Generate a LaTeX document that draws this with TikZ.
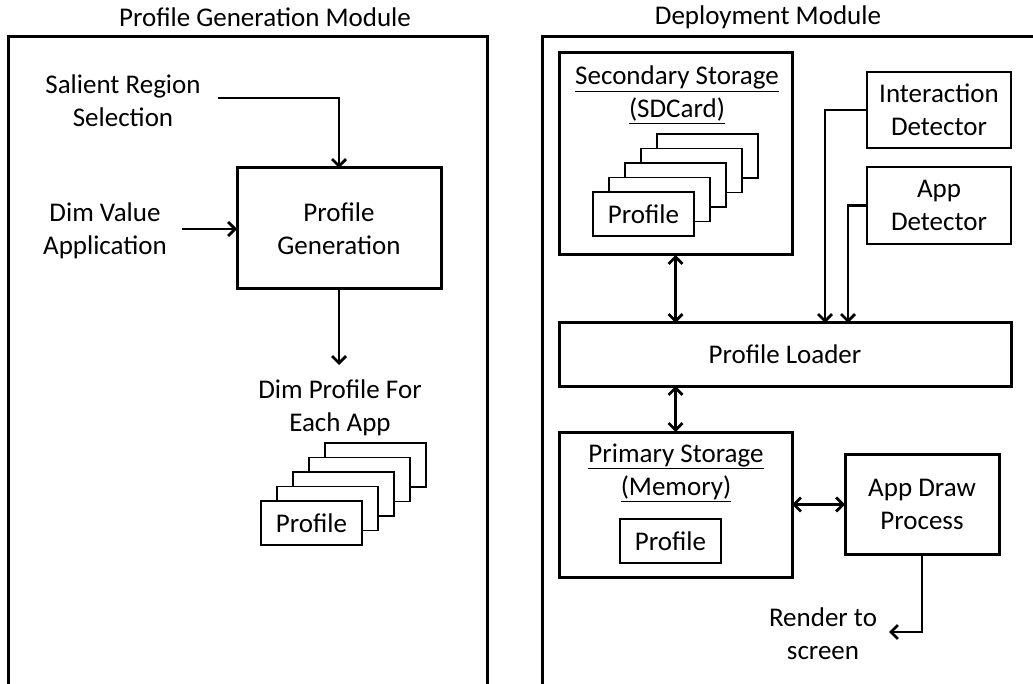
\documentclass[tikz,border=0pt]{standalone}
\usepackage{fontspec}
\setmainfont{Carlito}
\usetikzlibrary{arrows.meta,calc}
\begin{document}
\begin{tikzpicture}[x=1pt,y=-1pt,
  font=\fontsize{27}{33}\selectfont,
  every node/.style={inner sep=0pt, outer sep=0pt},
  txt/.style={align=center},
  bigbox/.style={draw, line width=3pt},
  thinbox/.style={draw, line width=1.5pt},
  card/.style={draw, fill=white, line width=1.1pt, minimum width=101pt, minimum height=44pt},
  arr/.style={line width=2.7pt, -{Straight Barb[length=7pt,width=14pt,line width=2.7pt]}},
  darr/.style={line width=2.7pt, {Straight Barb[length=7pt,width=14pt,line width=2.7pt]}-{Straight Barb[length=7pt,width=14pt,line width=2.7pt]}}
]
\useasboundingbox (0,0) rectangle (1033,684);
\clip (0,0) rectangle (1033,684);
% modules
\draw[bigbox] (8,700) -- (8,37) -- (487,37) -- (487,700);
\draw[bigbox] (542,700) -- (542,37) -- (1050,37);
\node[txt] (t1) at (265,17) {Profile Generation Module};
\node[txt] (t2) at (768,17) {Deployment Module};
% left module
\node[txt] (sal) at (123,101) {Salient Region\\Selection};
\node[txt] (dim) at (105,231) {Dim Value\\Application};
\node[bigbox, txt, minimum width=204pt, minimum height=121pt] (pg) at (339,228.5) {Profile\\Generation};
\coordinate (s1) at (218,98);
\coordinate (d1) at (182,229);
\draw[arr] (s1) -| (pg.north);
\draw[arr] (d1) -- (d1 -| pg.west);
\node[txt] (dp) at (340,408) {Dim Profile For\\Each App};
\coordinate (pgout) at (339,365);
\draw[arr] (pg.south) -- (pgout);
\node[card] (a5) at (375.5,465) {};
\node[card] (a4) at (359.5,479.5) {};
\node[card] (a3) at (343.5,494) {};
\node[card] (a2) at (327.5,508.5) {};
\node[card] (a1) at (311.5,523) {Profile};
% right module
\node[bigbox, minimum width=233pt, minimum height=202pt] (sec) at (675.5,154) {};
\node[txt] (sect) at (677,95) {\underline{Secondary Storage}\\\underline{(SDCard)}};
\node[card] (b5) at (707.5,156) {};
\node[card] (b4) at (691.5,170.5) {};
\node[card] (b3) at (675.5,185) {};
\node[card] (b2) at (659.5,199.5) {};
\node[card] (b1) at (643.5,214) {Profile};
\node[thinbox, txt, minimum width=144pt, minimum height=76pt] (idet) at (939,110) {Interaction\\Detector};
\node[thinbox, txt, minimum width=144pt, minimum height=77pt] (adet) at (939,205.5) {App\\Detector};
\node[bigbox, minimum width=452pt, minimum height=63pt] (loader) at (785,354.5) {Profile Loader};
\node[bigbox, minimum width=233pt, minimum height=145pt] (prim) at (675.5,504.5) {};
\node[txt] (primt) at (676,473) {\underline{Primary Storage}\\\underline{(Memory)}};
\node[card] (c1) at (670.5,541) {Profile};
\node[bigbox, txt, minimum width=154pt, minimum height=100pt] (draw) at (922,504) {App Draw\\Process};
\node[txt] (render) at (823,634) {Render to\\screen};
\coordinate (ix) at (825,0);
\coordinate (ax) at (848,0);
\coordinate (rend) at (889,632);
\draw[arr, line width=2.4pt] (idet.west) -| (ix |- loader.north);
\draw[arr, line width=2.4pt] (adet.west) -| (ax |- loader.north);
\draw[darr] (sec.south) -- (sec.south |- loader.north);
\draw[darr] (prim.north |- loader.south) -- (prim.north);
\draw[darr] (prim.east) -- (prim.east -| draw.west);
\draw[arr] (draw.south) |- (rend);
\end{tikzpicture}
\end{document}
